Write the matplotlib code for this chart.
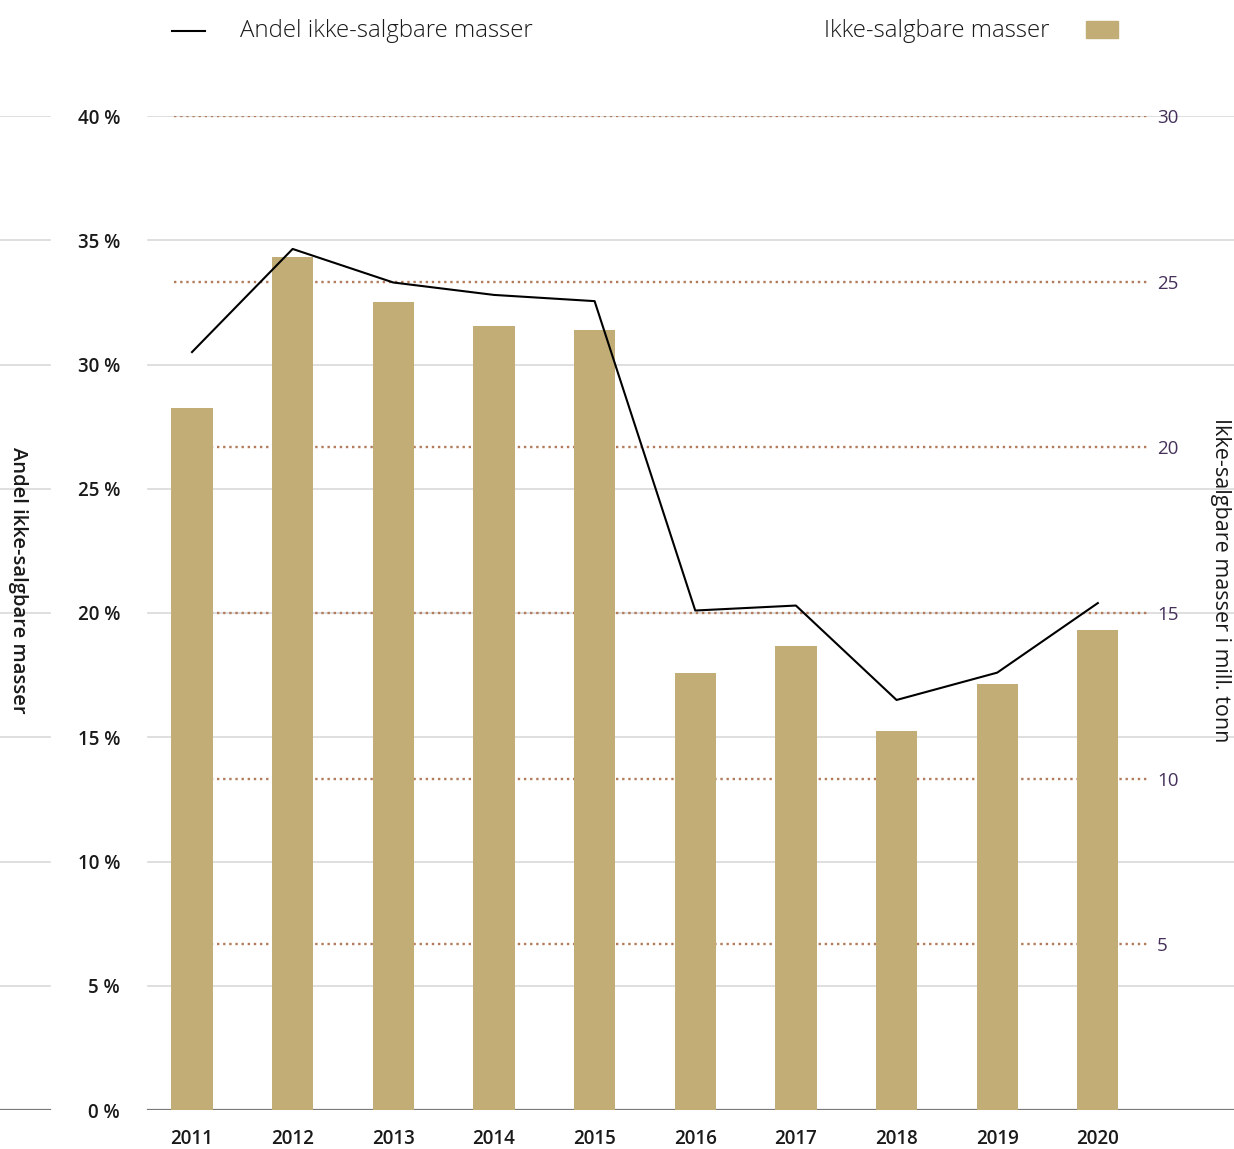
import matplotlib
matplotlib.use("Agg")
import matplotlib.pyplot as plt
from matplotlib.lines import Line2D
from matplotlib.patches import Rectangle
import numpy as np

years = ["2011", "2012", "2013", "2014", "2015", "2016", "2017", "2018", "2019", "2020"]
masser_mill_tonn = [21.2, 25.75, 24.4, 23.65, 23.55, 13.2, 14.0, 11.45, 12.85, 14.5]
andel_pct = [30.5, 34.65, 33.3, 32.8, 32.55, 20.1, 20.3, 16.5, 17.6, 20.4]
left_ticks = [0, 5, 10, 15, 20, 25, 30, 35, 40]
left_labels = ["0 %", "5 %", "10 %", "15 %", "20 %", "25 %", "30 %", "35 %", "40 %"]
right_ticks = [5, 10, 15, 20, 25, 30]
right_labels = ["5", "10", "15", "20", "25", "30"]

BAR = "#c2ad76"
DOT = "#b27c5c"
GRID = "#d9d9d9"
BASE = "#7a7a7a"
RTICK = "#45305a"
FONT = ["Open Sans", "DejaVu Sans"]
plt.rcParams["font.family"] = FONT

W, H = 1234, 1149
fig = plt.figure(figsize=(W / 100, H / 100), dpi=100)
pos = [0, (H - 1110) / H, 1, (1110 - 116) / H]

x = np.arange(len(years))
spacing = 100.65
xlim = (-192 / spacing, (W - 192) / spacing)

ax = fig.add_axes(pos)          # percent scale: grid + left labels
ax2 = ax.twinx()                # mill. tonn: dotted lines + bars
ax3 = ax.twinx()                # percent: line on top

for a in (ax, ax2, ax3):
    a.set_xlim(*xlim)
    for s in a.spines.values():
        s.set_visible(False)
    a.patch.set_visible(False)
ax.set_ylim(0, 40)
ax3.set_ylim(0, 40)
ax2.set_ylim(0, 30)

# gray grid lines (left scale)
g1 = 50 / W
g2 = 148 / W
for t in left_ticks[1:]:
    ax.axhline(t, 0, g1, color=GRID, lw=1.2, zorder=0)
    ax.axhline(t, g2, 1, color=GRID, lw=1.2, zorder=0)
ax.axhline(0, 0, g1, color=BASE, lw=1.6, zorder=3)
ax.axhline(0, g2, 1, color=BASE, lw=1.6, zorder=3)

ax.set_yticks(left_ticks)
ax.set_yticklabels(left_labels, fontsize=13.5, fontweight="semibold", color="#1a1a1a")
ax.tick_params(axis="y", length=0, pad=-120 * 0.72)
ax.set_xticks(x)
ax.set_xticklabels(years, fontsize=13.5, fontweight="semibold", color="#1a1a1a")
ax.tick_params(axis="x", length=0, pad=14)

# dotted lines (right scale)
for t in right_ticks:
    ax2.axhline(t, 174 / W, 1150 / W, color=DOT, lw=1.7, ls=(0, (1, 1.6)), zorder=1)
ax2.bar(x, masser_mill_tonn, width=0.41, color=BAR, zorder=2)
ax2.set_yticks(right_ticks)
ax2.set_yticklabels(right_labels, fontsize=13.5, color=RTICK)
ax2.tick_params(axis="y", length=0, pad=-(W - 1157) * 0.72)
for lab in ax2.get_yticklabels():
    lab.set_horizontalalignment("left")

ax3.plot(x, andel_pct, color="black", lw=1.5, zorder=5)
ax3.set_yticks([])

# axis titles
fig.text(18 / W, 1 - 580 / H, "Andel ikke-salgbare masser", rotation=-90,
         ha="center", va="center", fontsize=14.5, fontweight="semibold", color="#1a1a1a")
fig.text(1221 / W, 1 - 580 / H, "Ikke-salgbare masser i mill. tonn", rotation=-90,
         ha="center", va="center", fontsize=15.5, color="#1a1a1a")

# legend
ly = 1 - 31 / H
fig.add_artist(Line2D([172 / W, 205 / W], [ly, ly], color="black", lw=1.5))
fig.text(240 / W, ly, "Andel ikke-salgbare masser", ha="left", va="center",
         fontsize=17.3, fontweight="light", color="#1a1a1a")
fig.text(1050 / W, ly, "Ikke-salgbare masser", ha="right", va="center",
         fontsize=17.3, fontweight="light", color="#1a1a1a")
fig.add_artist(Rectangle((1086 / W, 1 - 38 / H), 32 / W, 17 / H, color=BAR,
                         transform=fig.transFigure))

fig.savefig("out.png", dpi=100)
